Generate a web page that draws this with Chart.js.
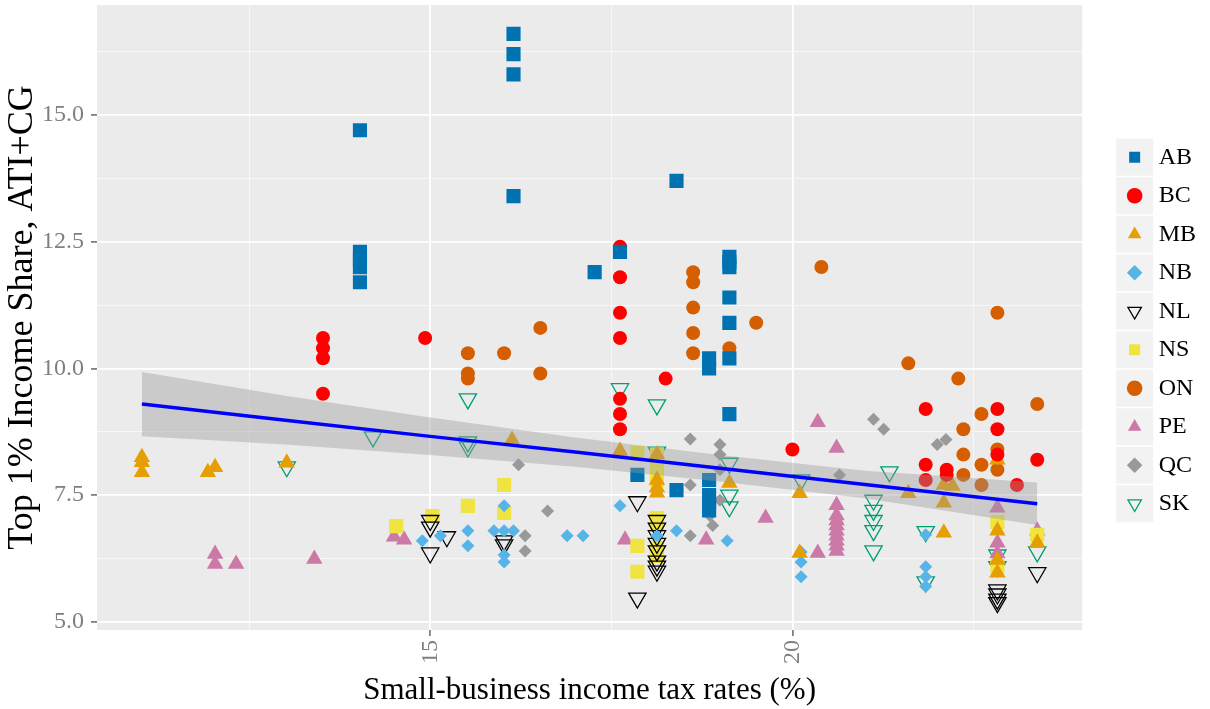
<!DOCTYPE html>
<html>
<head>
<meta charset="utf-8">
<script src="https://cdn.jsdelivr.net/npm/chart.js@4.4.1/dist/chart.umd.min.js"></script>
<style>
  body { margin: 0; background: #ffffff; }
  #wrap { width: 1210px; height: 709px; }
</style>
</head>
<body>
<div id="wrap"><canvas id="chart" width="1210" height="709"></canvas></div>
<script>
// values (x = small-business tax rate, y = top 1% share)
const provinces = ["AB", "BC", "MB", "NB", "NL", "NS", "ON", "PE", "QC", "SK"];

const abX = [14.03, 14.03, 14.03, 14.03, 14.03, 16.15, 16.15, 16.15, 16.15, 17.27, 17.62, 17.86, 18.4, 18.4, 18.85, 18.85, 18.85, 18.85, 18.85, 18.85, 19.13, 19.13, 19.13, 19.13, 19.13, 19.13, 19.13];
const abY = [14.7, 12.3, 12.15, 12.0, 11.7, 16.6, 16.2, 15.8, 13.4, 11.9, 12.3, 7.9, 13.7, 7.6, 10.2, 10.0, 7.8, 7.5, 7.35, 7.2, 12.2, 12.1, 12.0, 11.4, 10.9, 10.2, 9.1];

const bcX = [13.52, 13.52, 13.52, 13.52, 14.93, 17.62, 17.62, 17.62, 17.62, 17.62, 17.62, 17.62, 18.25, 20.0, 21.84, 21.84, 21.84, 22.13, 22.13, 22.83, 22.83, 22.83, 23.1, 23.38];
const bcY = [10.6, 10.4, 10.2, 9.5, 10.6, 12.4, 11.8, 11.1, 10.6, 9.4, 9.1, 8.8, 9.8, 8.4, 9.2, 8.1, 7.8, 8.0, 7.9, 9.2, 8.8, 8.3, 7.7, 8.2];

const mbX = [11.02, 11.02, 11.02, 11.93, 12.03, 13.02, 16.13, 17.62, 18.13, 18.13, 18.13, 18.13, 19.13, 20.1, 20.1, 21.6, 22.09, 22.09, 22.09, 22.21, 22.83, 22.83, 22.83, 22.83, 23.38];
const mbY = [8.25, 8.15, 7.95, 7.95, 8.05, 8.14, 8.59, 8.37, 8.3, 7.8, 7.65, 7.55, 7.74, 7.54, 6.36, 7.54, 7.7, 7.35, 6.76, 7.68, 8.2, 6.8, 6.22, 5.97, 6.56];

const nbX = [14.89, 15.14, 15.52, 15.52, 15.88, 16.02, 16.02, 16.02, 16.02, 16.15, 16.89, 17.11, 17.62, 18.13, 18.4, 19.1, 20.12, 20.12, 20.12, 21.84, 21.84, 21.84, 21.84];
const nbY = [6.6, 6.7, 6.8, 6.5, 6.8, 7.29, 6.8, 6.32, 6.18, 6.8, 6.7, 6.7, 7.29, 6.7, 6.8, 6.6, 6.38, 6.18, 5.89, 6.72, 6.09, 5.89, 5.7];

const nlX = [15.0, 15.0, 15.0, 15.23, 16.02, 16.02, 17.86, 17.86, 18.13, 18.13, 18.13, 18.13, 18.13, 18.13, 18.13, 18.13, 22.83, 22.83, 22.83, 22.83, 23.38];
const nlY = [7.0, 6.87, 6.36, 6.68, 6.6, 6.52, 7.37, 5.47, 7.0, 6.85, 6.7, 6.55, 6.4, 6.2, 6.1, 6.0, 5.63, 5.55, 5.45, 5.38, 5.97];

const nsX = [14.53, 15.03, 15.52, 16.02, 16.02, 17.86, 17.86, 17.86, 18.13, 18.13, 18.13, 18.13, 18.13, 18.13, 18.13, 22.83, 22.83, 23.38];
const nsY = [6.89, 7.09, 7.29, 7.7, 7.15, 8.33, 6.5, 5.99, 8.3, 8.05, 7.8, 7.05, 6.95, 6.45, 6.3, 6.97, 6.1, 6.72];

const onX = [15.52, 15.52, 15.52, 16.02, 16.52, 16.52, 18.63, 18.63, 18.63, 18.63, 18.63, 19.13, 19.5, 20.4, 21.6, 22.29, 22.36, 22.36, 22.36, 22.61, 22.61, 22.61, 22.83, 22.83, 22.83, 23.38];
const onY = [10.3, 9.9, 9.8, 10.3, 10.8, 9.9, 11.9, 11.7, 11.2, 10.7, 10.3, 10.4, 10.9, 12.0, 10.1, 9.8, 8.8, 8.3, 7.9, 9.1, 8.1, 7.7, 11.1, 8.4, 8.0, 9.3];

const peX = [12.03, 12.03, 12.32, 13.4, 14.5, 14.64, 17.69, 18.81, 19.63, 20.35, 20.35, 20.61, 20.61, 20.61, 20.61, 20.61, 20.61, 20.61, 20.61, 20.61, 20.61, 22.83, 22.83, 22.83, 23.38];
const peY = [6.34, 6.14, 6.14, 6.24, 6.68, 6.62, 6.62, 6.62, 7.05, 8.94, 6.36, 8.43, 7.3, 7.1, 7.0, 6.9, 6.8, 6.7, 6.6, 6.5, 6.4, 7.25, 6.56, 6.35, 6.8];

const qcX = [16.22, 16.31, 16.31, 16.62, 18.59, 18.59, 18.59, 19.0, 19.0, 19.0, 19.0, 18.86, 18.9, 20.65, 21.12, 21.26, 22.0, 22.12, 22.13];
const qcY = [8.1, 6.7, 6.4, 7.19, 8.61, 7.7, 6.7, 8.5, 8.3, 8.0, 7.4, 7.1, 6.9, 7.9, 9.0, 8.8, 8.5, 8.6, 7.96];

const skX = [13.02, 14.21, 15.52, 15.52, 15.52, 17.62, 18.13, 18.13, 19.13, 19.13, 19.13, 20.12, 21.12, 21.12, 21.12, 21.12, 21.12, 21.34, 21.84, 21.84, 22.83, 22.83, 23.38];
const skY = [8.06, 8.65, 9.4, 8.55, 8.45, 9.6, 9.28, 8.35, 8.13, 7.5, 7.27, 7.8, 7.4, 7.2, 7.0, 6.8, 6.4, 7.96, 6.78, 5.79, 6.32, 6.09, 6.38];

// linear fit and its confidence band, read at a few x positions
const fitX = [11.02, 13, 15, 17, 19, 21, 23.38];
const fitY = [9.30, 8.98, 8.66, 8.35, 8.03, 7.71, 7.33];
const bandUpper = [9.93, 9.46, 9.03, 8.64, 8.29, 7.98, 7.75];
const bandLower = [8.66, 8.50, 8.29, 8.06, 7.77, 7.44, 6.91];

const xMajor = [15, 20];
const xMinor = [12.5, 17.5, 22.5];
const yMajor = [5, 7.5, 10, 12.5, 15];
const yMinor = [6.25, 8.75, 11.25, 13.75, 16.25];

const FONT = "'Liberation Serif', 'Times New Roman', serif";
const TICK_GREY = "#7F7F7F";

function pts(xs, ys) {
    return xs.map((x, i) => ({ x: x, y: ys[i] }));
}

const seriesX = [abX, bcX, mbX, nbX, nlX, nsX, onX, peX, qcX, skX];
const seriesY = [abY, bcY, mbY, nbY, nlY, nsY, onY, peY, qcY, skY];

// marker look per province
const looks = [
    { style: "rect", color: "#0072B2", r: 10, open: false },
    { style: "circle", color: "#FF0000", r: 7, open: false },
    { style: "triangle", color: "#E69F00", r: 9.5, open: false },
    { style: "rectRot", color: "#56B4E9", r: 6.5, open: false },
    { style: "triangle", color: "#000000", r: 10, open: true },
    { style: "rect", color: "#F0E442", r: 10, open: false },
    { style: "circle", color: "#D55E00", r: 7, open: false },
    { style: "triangle", color: "#CC79A7", r: 9.5, open: false },
    { style: "rectRot", color: "#999999", r: 6.5, open: false },
    { style: "triangle", color: "#009E73", r: 10, open: true }
];

let datasets = provinces.map((name, i) => {
    let lk = looks[i];
    return {
        type: "scatter",
        label: name,
        data: pts(seriesX[i], seriesY[i]),
        pointStyle: lk.style,
        pointRadius: lk.r,
        pointRotation: lk.open ? 180 : 0,
        backgroundColor: lk.open ? "rgba(0,0,0,0)" : lk.color,
        borderColor: lk.color,
        borderWidth: lk.open ? 1.3 : 0,
        order: 1
    };
});

// band and fitted line go on top of the points, like the original
datasets.push({
    type: "line",
    label: "upper",
    data: pts(fitX, bandUpper),
    borderWidth: 0,
    pointRadius: 0,
    fill: "+1",
    backgroundColor: "rgba(153,153,153,0.4)",
    order: -1
});
datasets.push({
    type: "line",
    label: "lower",
    data: pts(fitX, bandLower),
    borderWidth: 0,
    pointRadius: 0,
    fill: false,
    order: -1
});
datasets.push({
    type: "line",
    label: "fit",
    data: pts(fitX, fitY),
    borderColor: "#0000FF",
    borderWidth: 3.5,
    pointRadius: 0,
    fill: false,
    order: -2
});

const LEGEND_FONT = 24;
const LEGEND_BOX_W = 24;

// grey panel and grey key squares in the legend
const panelBackground = {
    id: "panelBackground",
    beforeDraw(chart) {
        const { ctx, chartArea } = chart;
        ctx.save();
        ctx.fillStyle = "#EBEBEB";
        ctx.fillRect(chartArea.left, chartArea.top, chartArea.right - chartArea.left, chartArea.bottom - chartArea.top);
        ctx.fillStyle = "#F2F2F2";
        (chart.legend.legendHitBoxes || []).forEach(hb => {
            let cx = hb.left + LEGEND_BOX_W / 2;
            let cy = hb.top + LEGEND_FONT / 2;
            ctx.fillRect(cx - 18.5, cy - 18.5, 37, 37);
        });
        ctx.restore();
    }
};

function gridColor(ctx, majors) {
    if (!ctx.tick) return "rgba(0,0,0,0)";
    return majors.includes(ctx.tick.value) ? "#FFFFFF" : "#F7F7F7";
}

new Chart(document.getElementById("chart"), {
    data: { datasets: datasets },
    plugins: [panelBackground],
    options: {
        responsive: false,
        animation: false,
        devicePixelRatio: 1,
        layout: { autoPadding: false, padding: { top: 5, right: 4, left: 0, bottom: 0 } },
        scales: {
            x: {
                type: "linear",
                min: 10.4,
                max: 24.0,
                afterBuildTicks: axis => {
                    axis.ticks = xMajor.concat(xMinor).sort((a, b) => a - b).map(v => ({ value: v }));
                },
                afterFit: s => { s.paddingLeft = 0; s.paddingRight = 0; s.height = 79; },
                ticks: {
                    callback: v => xMajor.includes(v) ? String(v) : "",
                    minRotation: 90,
                    maxRotation: 90,
                    font: { family: FONT, size: 24 },
                    color: TICK_GREY,
                    padding: 4
                },
                grid: {
                    color: ctx => gridColor(ctx, xMajor),
                    lineWidth: ctx => (ctx.tick && xMajor.includes(ctx.tick.value)) ? 1.8 : 1,
                    tickLength: 6,
                    tickColor: ctx => (ctx.tick && xMajor.includes(ctx.tick.value)) ? TICK_GREY : "rgba(0,0,0,0)"
                },
                border: { display: false },
                title: {
                    display: true,
                    text: "Small-business income tax rates (%)",
                    font: { family: FONT, size: 31 },
                    color: "#000000",
                    padding: { top: 3, bottom: 0 }
                }
            },
            y: {
                type: "linear",
                min: 4.84,
                max: 17.17,
                afterBuildTicks: axis => {
                    axis.ticks = yMajor.concat(yMinor).sort((a, b) => a - b).map(v => ({ value: v }));
                },
                afterFit: s => { s.paddingTop = 0; s.paddingBottom = 0; s.width = 97; },
                ticks: {
                    callback: v => yMajor.includes(v) ? v.toFixed(1) : "",
                    font: { family: FONT, size: 24 },
                    color: TICK_GREY,
                    padding: 7
                },
                grid: {
                    color: ctx => gridColor(ctx, yMajor),
                    lineWidth: ctx => (ctx.tick && yMajor.includes(ctx.tick.value)) ? 1.8 : 1,
                    tickLength: 6,
                    tickColor: ctx => (ctx.tick && yMajor.includes(ctx.tick.value)) ? TICK_GREY : "rgba(0,0,0,0)"
                },
                border: { display: false },
                title: {
                    display: true,
                    text: "Top 1% Income Share, ATI+CG",
                    font: { family: FONT, size: 36 },
                    color: "#000000",
                    padding: { top: 1, bottom: 0 }
                }
            },
            gap: {
                type: "linear",
                position: "right",
                display: true,
                grid: { display: false, drawTicks: false },
                ticks: { display: false },
                border: { display: false },
                afterFit: s => { s.width = 26; s.paddingTop = 0; s.paddingBottom = 0; }
            }
        },
        plugins: {
            tooltip: { enabled: false },
            legend: {
                position: "right",
                fullSize: false,
                title: { display: true, text: " ", font: { size: 10 }, padding: 7 },
                labels: {
                    usePointStyle: true,
                    boxWidth: LEGEND_BOX_W,
                    boxHeight: 11,
                    padding: 14.5,
                    color: "#000000",
                    font: { family: FONT, size: LEGEND_FONT },
                    filter: item => provinces.includes(item.text)
                }
            }
        }
    }
});
</script>
</body>
</html>
